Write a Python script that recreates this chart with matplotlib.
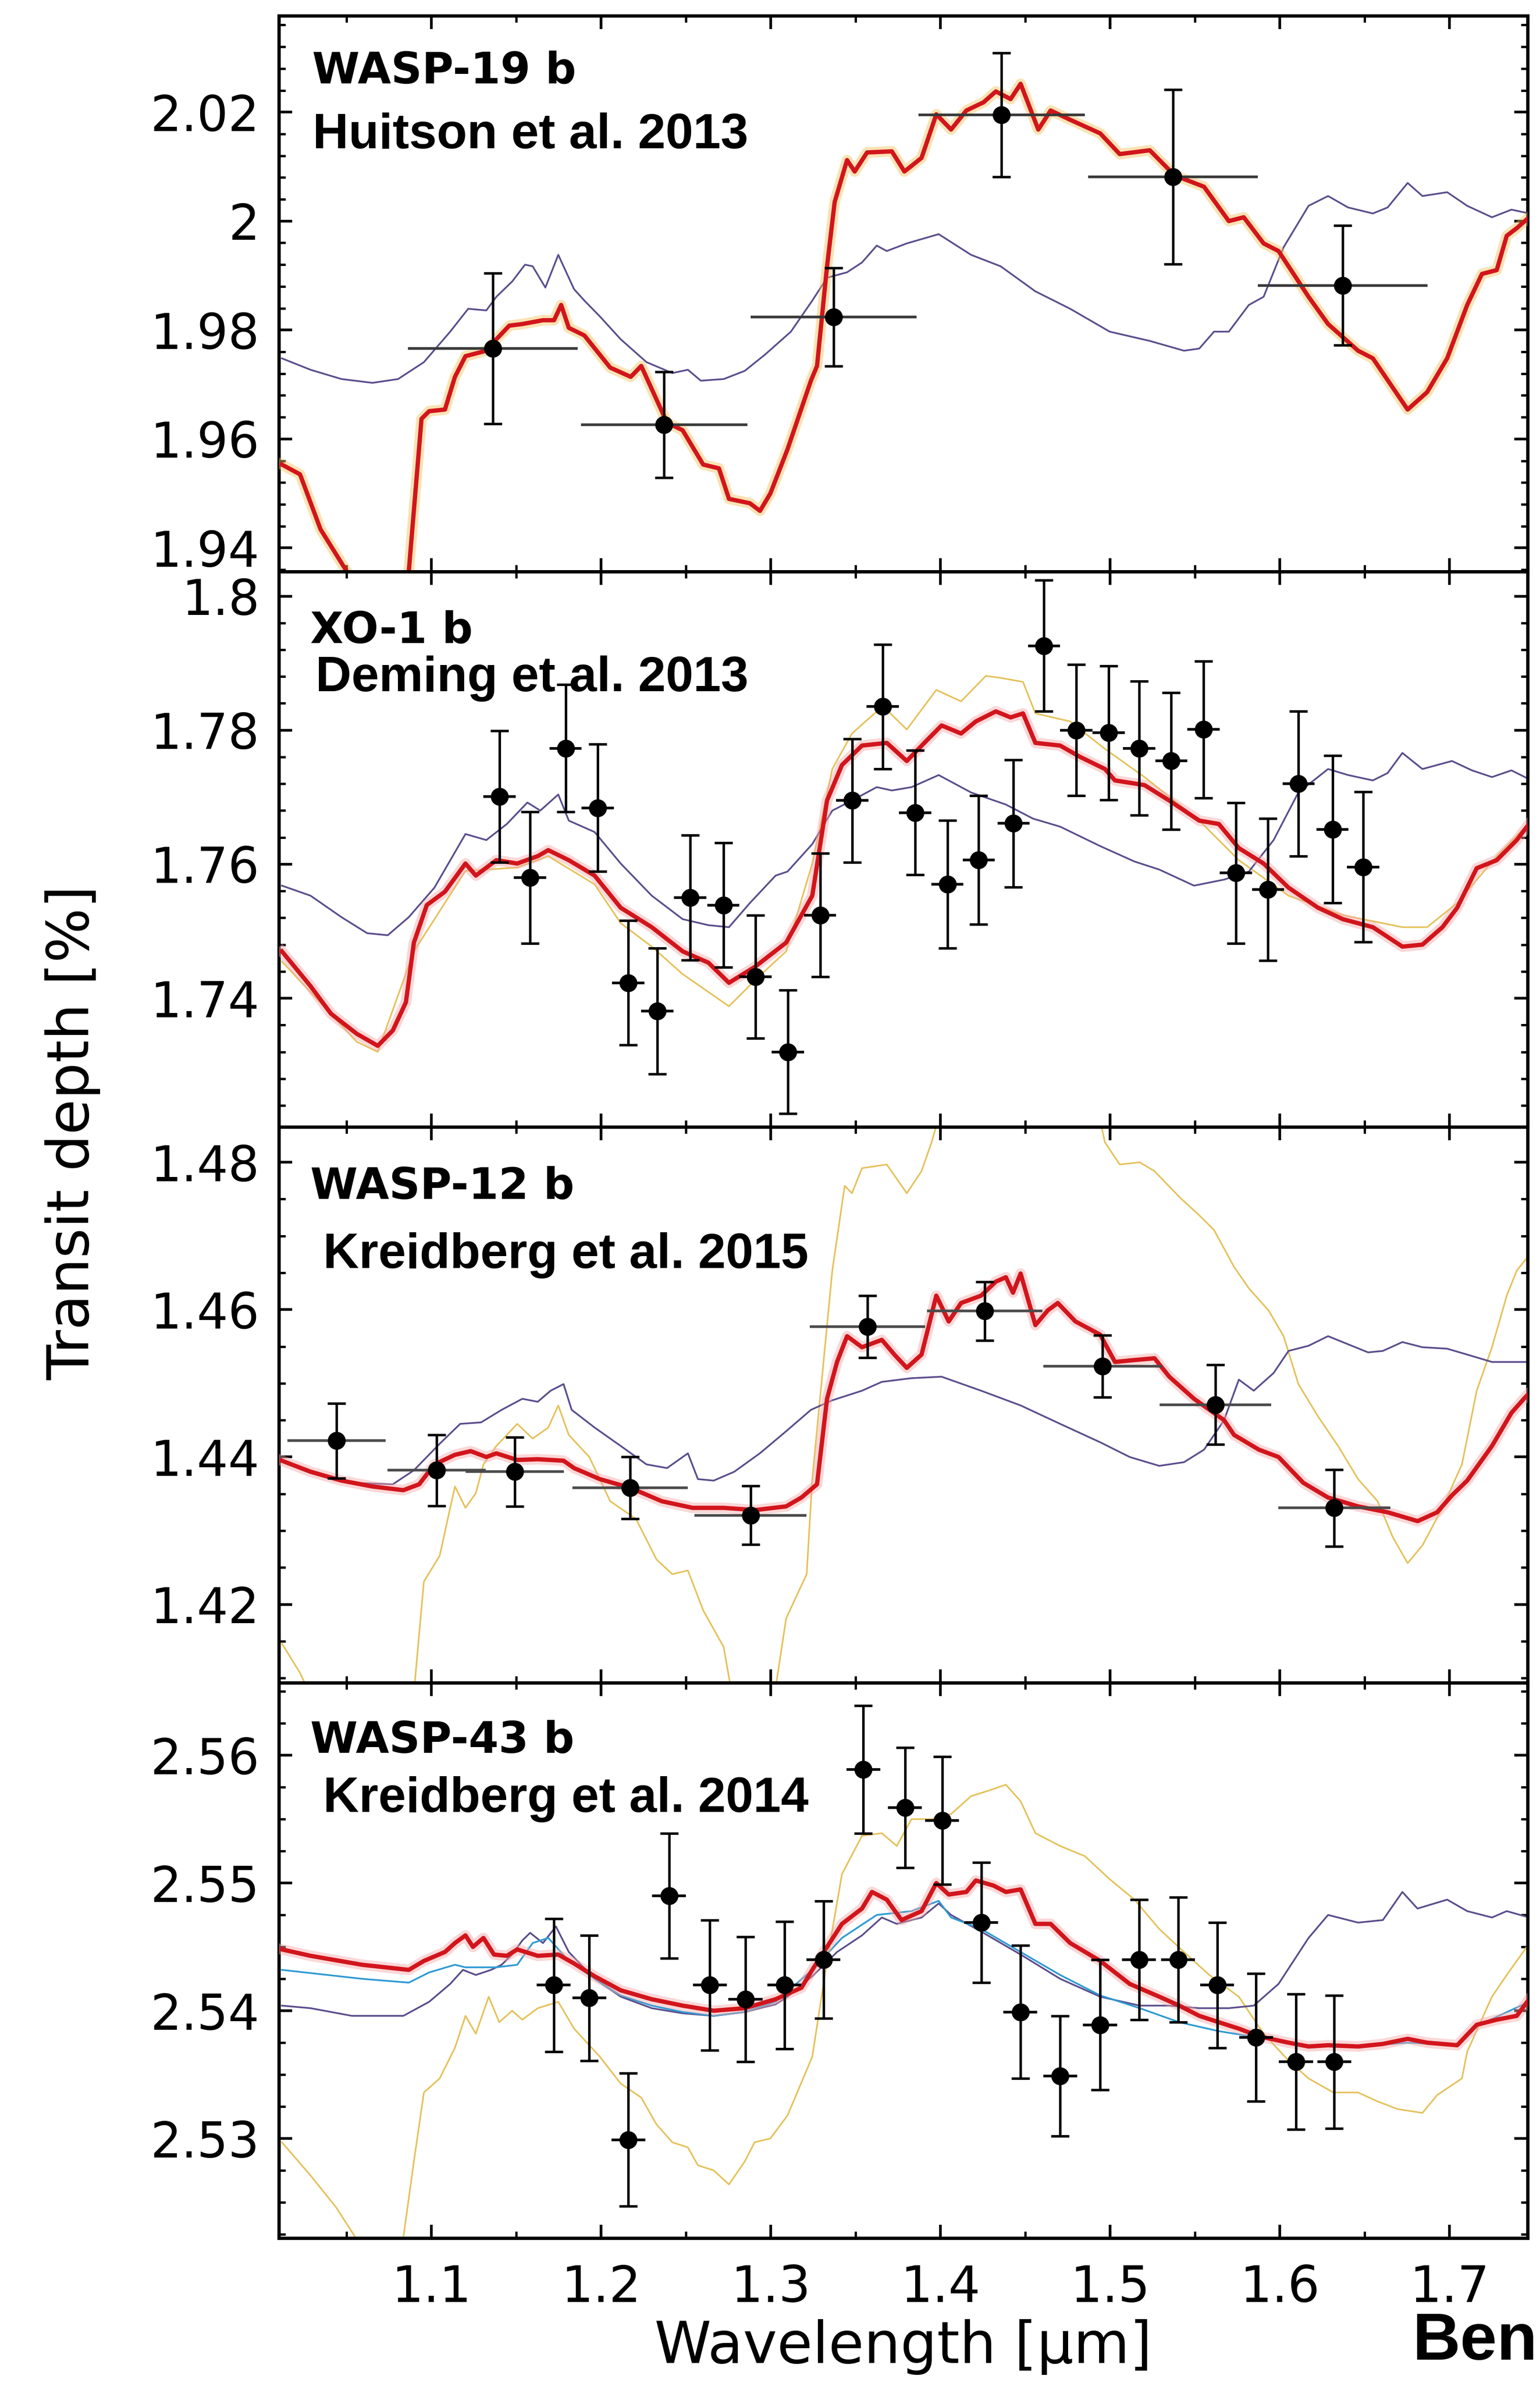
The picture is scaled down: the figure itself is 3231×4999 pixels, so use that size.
import numpy as np
import matplotlib
matplotlib.use('Agg')
import matplotlib.pyplot as plt
from matplotlib.ticker import MultipleLocator, FuncFormatter

# ---------------- data ----------------
x_lim = (1.010, 1.746)

# WASP-19 b (Huitson et al. 2013)
w19_x = [1.136, 1.237, 1.337, 1.436, 1.537, 1.637]
w19_y = [1.9766, 1.9626, 1.9824, 2.0195, 2.0081, 1.9882]
w19_yerr = [0.0138, 0.0097, 0.0090, 0.0114, 0.0160, 0.0110]
w19_xerr = [0.050, 0.049, 0.049, 0.049, 0.050, 0.050]
w19_red_x = [1.0118, 1.0225, 1.0346, 1.0500, 1.0560, 1.0800, 1.0866, 1.0941, 1.0986, 1.1079,
             1.1138, 1.1200, 1.1323, 1.1382, 1.1458, 1.1535, 1.1657, 1.1722, 1.1764, 1.1809,
             1.1901, 1.2053, 1.2174, 1.2236, 1.2388, 1.2480, 1.2601, 1.2694, 1.2753, 1.2876,
             1.2936, 1.2997, 1.3098, 1.3236, 1.3272, 1.3331, 1.3376, 1.3449, 1.3494, 1.3567,
             1.3713, 1.3787, 1.3888, 1.3975, 1.4062, 1.4152, 1.4253, 1.4326, 1.4413, 1.4472,
             1.4576, 1.4649, 1.4764, 1.4941, 1.5056, 1.5233, 1.5379, 1.5553, 1.5699, 1.5787,
             1.5904, 1.5992, 1.6169, 1.6284, 1.6461, 1.6548, 1.6753, 1.6868, 1.6986, 1.7104,
             1.7191, 1.7278, 1.7337, 1.7396, 1.7469]
w19_red_y = [1.9553, 1.9535, 1.9434, 1.9357, 1.9300, 1.9280, 1.9357, 1.9637, 1.9651, 1.9654,
             1.9714, 1.9752, 1.9762, 1.9783, 1.9808, 1.9811, 1.9818, 1.9818, 1.9846, 1.9804,
             1.9790, 1.9731, 1.9714, 1.9734, 1.9630, 1.9616, 1.9553, 1.9546, 1.9490, 1.9482,
             1.9468, 1.9500, 1.9581, 1.9707, 1.9734, 1.9917, 2.0035, 2.0112, 2.0091, 2.0126,
             2.0128, 2.0091, 2.0116, 2.0196, 2.0168, 2.0203, 2.0218, 2.0238, 2.0224, 2.0252,
             2.0168, 2.0203, 2.0186, 2.0161, 2.0123, 2.0130, 2.0084, 2.0063, 2.0000, 2.0007,
             1.9959, 1.9945, 1.9861, 1.9811, 1.9762, 1.9748, 1.9654, 1.9686, 1.9748, 1.9846,
             1.9903, 1.9910, 1.9973, 1.9987, 2.0007]
w19_pur_x = [1.0118, 1.0287, 1.0469, 1.0652, 1.0803, 1.0955, 1.1110, 1.1216, 1.1323, 1.1382,
             1.1475, 1.1551, 1.1596, 1.1671, 1.1747, 1.1840, 1.1901, 1.1992, 1.2115, 1.2267,
             1.2419, 1.2511, 1.2587, 1.2722, 1.2846, 1.2966, 1.3118, 1.3244, 1.3331, 1.3449,
             1.3537, 1.3624, 1.3683, 1.3801, 1.3989, 1.4180, 1.4354, 1.4559, 1.4764, 1.4997,
             1.5233, 1.5435, 1.5525, 1.5612, 1.5699, 1.5817, 1.5904, 1.6022, 1.6169, 1.6284,
             1.6402, 1.6548, 1.6635, 1.6753, 1.6840, 1.6986, 1.7104, 1.7250, 1.7365, 1.7469]
w19_pur_y = [1.9748, 1.9727, 1.9710, 1.9703, 1.9710, 1.9741, 1.9797, 1.9839, 1.9836, 1.9861,
             1.9889, 1.9920, 1.9917, 1.9878, 1.9938, 1.9875, 1.9854, 1.9825, 1.9783, 1.9741,
             1.9721, 1.9727, 1.9707, 1.9710, 1.9725, 1.9755, 1.9797, 1.9854, 1.9896, 1.9906,
             1.9924, 1.9955, 1.9945, 1.9959, 1.9976, 1.9938, 1.9917, 1.9871, 1.9839, 1.9797,
             1.9780, 1.9762, 1.9766, 1.9797, 1.9797, 1.9846, 1.9861, 1.9952, 2.0028, 2.0046,
             2.0025, 2.0014, 2.0025, 2.0070, 2.0046, 2.0053, 2.0028, 2.0007, 2.0021, 2.0014]

# XO-1 b (Deming et al. 2013)
xo1_x = [1.140, 1.158, 1.179, 1.198, 1.216, 1.233, 1.2525, 1.272, 1.291, 1.310,
         1.329, 1.348, 1.366, 1.385, 1.404, 1.4225, 1.443, 1.461, 1.480, 1.499,
         1.517, 1.536, 1.555, 1.574, 1.593, 1.611, 1.631, 1.649]
xo1_y = [1.7701, 1.7580, 1.7773, 1.7684, 1.7423, 1.7381, 1.7550, 1.7539, 1.7432, 1.7320,
         1.7524, 1.7695, 1.7835, 1.7677, 1.7570, 1.7606, 1.7661, 1.7926, 1.7800, 1.7796,
         1.7773, 1.7754, 1.7801, 1.7587, 1.7562, 1.7720, 1.7652, 1.7596]
xo1_yerr = [0.0098, 0.0098, 0.0095, 0.0095, 0.0093, 0.0094, 0.0093, 0.0093, 0.0092, 0.0092,
            0.0092, 0.0092, 0.0093, 0.0093, 0.0095, 0.0096, 0.0095, 0.0098, 0.0098, 0.0100,
            0.0100, 0.0102, 0.0102, 0.0105, 0.0106, 0.0108, 0.0110, 0.0112]
xo1_xerr = 0.0095
xo1_red_x = [1.0118, 1.0287, 1.0407, 1.0559, 1.0683, 1.0772, 1.0849, 1.0896, 1.0972, 1.1079,
             1.1200, 1.1261, 1.1382, 1.1505, 1.1626, 1.1688, 1.1809, 1.1961, 1.2115, 1.2298,
             1.2480, 1.2632, 1.2753, 1.2907, 1.3090, 1.3244, 1.3331, 1.3419, 1.3537, 1.3683,
             1.3801, 1.3916, 1.4006, 1.4121, 1.4208, 1.4326, 1.4413, 1.4486, 1.4559, 1.4705,
             1.4823, 1.4969, 1.5028, 1.5202, 1.5348, 1.5525, 1.5640, 1.5758, 1.5904, 1.6051,
             1.6225, 1.6371, 1.6548, 1.6722, 1.6840, 1.6958, 1.7045, 1.7160, 1.7278, 1.7396,
             1.7483]
xo1_red_y = [1.7470, 1.7418, 1.7377, 1.7347, 1.7329, 1.7352, 1.7394, 1.7483, 1.7539, 1.7559,
             1.7601, 1.7583, 1.7606, 1.7601, 1.7612, 1.7621, 1.7606, 1.7583, 1.7535, 1.7506,
             1.7470, 1.7453, 1.7423, 1.7447, 1.7483, 1.7553, 1.7695, 1.7748, 1.7777, 1.7781,
             1.7754, 1.7784, 1.7807, 1.7795, 1.7813, 1.7828, 1.7819, 1.7825, 1.7781, 1.7777,
             1.7760, 1.7742, 1.7725, 1.7718, 1.7695, 1.7665, 1.7660, 1.7624, 1.7601, 1.7565,
             1.7535, 1.7518, 1.7506, 1.7477, 1.7480, 1.7506, 1.7535, 1.7594, 1.7606, 1.7636,
             1.7665]
xo1_pur_x = [1.0118, 1.0287, 1.0469, 1.0621, 1.0742, 1.0866, 1.1017, 1.1200, 1.1323, 1.1444,
             1.1565, 1.1641, 1.1747, 1.1809, 1.1961, 1.2115, 1.2298, 1.2480, 1.2632, 1.2753,
             1.2876, 1.3028, 1.3098, 1.3244, 1.3362, 1.3478, 1.3624, 1.3713, 1.3829, 1.3989,
             1.4180, 1.4385, 1.4545, 1.4705, 1.4941, 1.5143, 1.5289, 1.5494, 1.5671, 1.5817,
             1.5963, 1.6109, 1.6284, 1.6402, 1.6548, 1.6635, 1.6722, 1.6840, 1.7014, 1.7132,
             1.7250, 1.7365, 1.7483]
xo1_pur_y = [1.7568, 1.7553, 1.7521, 1.7497, 1.7494, 1.7521, 1.7565, 1.7645, 1.7636, 1.7660,
             1.7692, 1.7680, 1.7704, 1.7665, 1.7648, 1.7601, 1.7553, 1.7518, 1.7509, 1.7506,
             1.7542, 1.7583, 1.7589, 1.7630, 1.7680, 1.7695, 1.7715, 1.7710, 1.7715, 1.7733,
             1.7707, 1.7689, 1.7668, 1.7656, 1.7627, 1.7604, 1.7592, 1.7568, 1.7577, 1.7589,
             1.7636, 1.7707, 1.7742, 1.7733, 1.7725, 1.7736, 1.7766, 1.7742, 1.7754, 1.7740,
             1.7730, 1.7740, 1.7725]
xo1_yel_x = [1.0118, 1.0559, 1.0683, 1.0896, 1.1200, 1.1505, 1.1688, 1.1961, 1.2115, 1.2298,
             1.2480, 1.2753, 1.2907, 1.3090, 1.3244, 1.3362, 1.3478, 1.3660, 1.3801, 1.3975,
             1.4121, 1.4267, 1.4354, 1.4486, 1.4559, 1.4764, 1.4969, 1.5202, 1.5525, 1.5758,
             1.6051, 1.6371, 1.6722, 1.6868, 1.7045, 1.7278, 1.7483]
xo1_yel_y = [1.7455, 1.7335, 1.7320, 1.7470, 1.7590, 1.7595, 1.7612, 1.7570, 1.7512, 1.7477,
             1.7436, 1.7388, 1.7427, 1.7470, 1.7601, 1.7742, 1.7795, 1.7836, 1.7801, 1.7860,
             1.7843, 1.7881, 1.7878, 1.7872, 1.7825, 1.7813, 1.7772, 1.7730, 1.7665, 1.7606,
             1.7553, 1.7524, 1.7506, 1.7506, 1.7542, 1.7612, 1.7665]

# WASP-12 b (Kreidberg et al. 2015)
w12_x = [1.044, 1.103, 1.149, 1.217, 1.288, 1.357, 1.426, 1.4955, 1.562, 1.632]
w12_y = [1.4422, 1.4382, 1.4380, 1.4358, 1.4321, 1.4577, 1.4598, 1.4523, 1.4471, 1.4331]
w12_yerr = [0.0051, 0.0048, 0.0047, 0.0042, 0.0040, 0.0042, 0.0040, 0.0042, 0.0054, 0.0052]
w12_xerr = [0.029, 0.029, 0.029, 0.034, 0.033, 0.034, 0.034, 0.035, 0.033, 0.033]
w12_red_x = [1.0118, 1.0287, 1.0469, 1.0652, 1.0834, 1.0927, 1.1017, 1.1138, 1.1231, 1.1323,
             1.1382, 1.1505, 1.1626, 1.1778, 1.1840, 1.1992, 1.2174, 1.2357, 1.2539, 1.2722,
             1.2907, 1.3090, 1.3180, 1.3272, 1.3331, 1.3390, 1.3449, 1.3537, 1.3654, 1.3728,
             1.3801, 1.3888, 1.3975, 1.4048, 1.4121, 1.4239, 1.4326, 1.4385, 1.4427, 1.4472,
             1.4559, 1.4632, 1.4691, 1.4795, 1.4941, 1.5028, 1.5115, 1.5261, 1.5348, 1.5494,
             1.5671, 1.5730, 1.5876, 1.5992, 1.6138, 1.6284, 1.6461, 1.6635, 1.6812, 1.6927,
             1.7014, 1.7104, 1.7250, 1.7365, 1.7438, 1.7483]
w12_red_y = [1.4395, 1.4380, 1.4368, 1.4360, 1.4355, 1.4363, 1.4390, 1.4403, 1.4408, 1.4400,
             1.4405, 1.4396, 1.4397, 1.4395, 1.4385, 1.4370, 1.4358, 1.4340, 1.4331, 1.4331,
             1.4328, 1.4333, 1.4345, 1.4363, 1.4479, 1.4529, 1.4564, 1.4549, 1.4559, 1.4539,
             1.4521, 1.4539, 1.4619, 1.4584, 1.4609, 1.4619, 1.4638, 1.4644, 1.4623, 1.4649,
             1.4579, 1.4599, 1.4609, 1.4584, 1.4566, 1.4529, 1.4531, 1.4534, 1.4509, 1.4479,
             1.4450, 1.4430, 1.4410, 1.4400, 1.4365, 1.4345, 1.4333, 1.4325, 1.4313, 1.4325,
             1.4348, 1.4368, 1.4415, 1.4460, 1.4479, 1.4490]
w12_pur_x = [1.0118, 1.0287, 1.0531, 1.0772, 1.0896, 1.1048, 1.1169, 1.1292, 1.1413, 1.1535,
             1.1626, 1.1702, 1.1778, 1.1826, 1.1961, 1.2115, 1.2267, 1.2388, 1.2511, 1.2570,
             1.2663, 1.2784, 1.2935, 1.3090, 1.3236, 1.3362, 1.3537, 1.3654, 1.3829, 1.4006,
             1.4239, 1.4472, 1.4705, 1.4941, 1.5115, 1.5289, 1.5435, 1.5553, 1.5671, 1.5758,
             1.5846, 1.5963, 1.6051, 1.6169, 1.6284, 1.6520, 1.6607, 1.6722, 1.6840, 1.6986,
             1.7104, 1.7250, 1.7483]
w12_pur_y = [1.4395, 1.4382, 1.4365, 1.4363, 1.4382, 1.4418, 1.4445, 1.4447, 1.4464, 1.4479,
             1.4475, 1.4490, 1.4499, 1.4464, 1.4440, 1.4415, 1.4390, 1.4385, 1.4405, 1.4370,
             1.4368, 1.4380, 1.4405, 1.4435, 1.4464, 1.4477, 1.4490, 1.4502, 1.4507, 1.4509,
             1.4490, 1.4470, 1.4445, 1.4420, 1.4400, 1.4388, 1.4393, 1.4410, 1.4450, 1.4505,
             1.4490, 1.4514, 1.4544, 1.4551, 1.4564, 1.4542, 1.4544, 1.4556, 1.4549, 1.4547,
             1.4539, 1.4529, 1.4529]
w12_yel_x = [1.0118, 1.0225, 1.0400, 1.0850, 1.0896, 1.0955, 1.1048, 1.1110, 1.1138, 1.1200,
             1.1261, 1.1306, 1.1382, 1.1444, 1.1505, 1.1596, 1.1688, 1.1747, 1.1809, 1.1930,
             1.2053, 1.2205, 1.2326, 1.2419, 1.2511, 1.2601, 1.2722, 1.2784, 1.2997, 1.3090,
             1.3211, 1.3244, 1.3362, 1.3435, 1.3478, 1.3537, 1.3683, 1.3801, 1.3888, 1.3947,
             1.4100, 1.4500, 1.4850, 1.4969, 1.5056, 1.5174, 1.5261, 1.5407, 1.5525, 1.5612,
             1.5730, 1.5817, 1.5933, 1.6022, 1.6109, 1.6225, 1.6343, 1.6461, 1.6576, 1.6666,
             1.6753, 1.6840, 1.6958, 1.7073, 1.7160, 1.7250, 1.7337, 1.7396, 1.7483]
w12_yel_y = [1.4147, 1.4107, 1.4020, 1.4020, 1.4080, 1.4231, 1.4266, 1.4331, 1.4360, 1.4331,
             1.4351, 1.4390, 1.4415, 1.4430, 1.4445, 1.4425, 1.4440, 1.4470, 1.4430, 1.4400,
             1.4340, 1.4316, 1.4261, 1.4241, 1.4246, 1.4192, 1.4142, 1.4060, 1.4040, 1.4181,
             1.4241, 1.4370, 1.4653, 1.4768, 1.4758, 1.4792, 1.4797, 1.4758, 1.4788, 1.4827,
             1.4950, 1.5000, 1.4950, 1.4827, 1.4797, 1.4800, 1.4788, 1.4753, 1.4728, 1.4708,
             1.4658, 1.4629, 1.4599, 1.4564, 1.4499, 1.4455, 1.4415, 1.4370, 1.4340, 1.4291,
             1.4256, 1.4280, 1.4331, 1.4390, 1.4490, 1.4549, 1.4619, 1.4653, 1.4678]

# WASP-43 b (Kreidberg et al. 2014)
w43_x = [1.172, 1.193, 1.216, 1.240, 1.264, 1.285, 1.308, 1.331, 1.3545, 1.379,
         1.401, 1.424, 1.447, 1.4705, 1.494, 1.517, 1.540, 1.563, 1.586, 1.6095, 1.632]
w43_y = [2.5420, 2.5410, 2.5299, 2.5490, 2.5420, 2.5409, 2.5420, 2.5440, 2.5589, 2.5559,
         2.5549, 2.5469, 2.5399, 2.5349, 2.5389, 2.5440, 2.5440, 2.5420, 2.5379, 2.5360, 2.5360]
w43_yerr = [0.0052, 0.0049, 0.0052, 0.0049, 0.0051, 0.0049, 0.0050, 0.0046, 0.0050, 0.0047,
            0.0050, 0.0047, 0.0052, 0.0047, 0.0051, 0.0047, 0.0049, 0.0049, 0.0050, 0.0053, 0.0052]
w43_xerr = 0.010
w43_red_x = [1.0118, 1.0287, 1.0590, 1.0866, 1.0955, 1.1079, 1.1138, 1.1200, 1.1244, 1.1306,
             1.1368, 1.1444, 1.1505, 1.1626, 1.1747, 1.1840, 1.1961, 1.2115, 1.2298, 1.2480,
             1.2663, 1.2846, 1.3028, 1.3180, 1.3244, 1.3331, 1.3419, 1.3537, 1.3596, 1.3683,
             1.3770, 1.3888, 1.3975, 1.4048, 1.4152, 1.4208, 1.4312, 1.4385, 1.4472, 1.4559,
             1.4649, 1.4764, 1.4941, 1.5115, 1.5289, 1.5407, 1.5525, 1.5640, 1.5758, 1.5876,
             1.6051, 1.6169, 1.6284, 1.6461, 1.6607, 1.6753, 1.6868, 1.7045, 1.7160, 1.7278,
             1.7396, 1.7469]
w43_red_y = [2.5448, 2.5443, 2.5436, 2.5432, 2.5439, 2.5446, 2.5453, 2.5459, 2.5450, 2.5457,
             2.5444, 2.5443, 2.5448, 2.5443, 2.5444, 2.5437, 2.5427, 2.5416, 2.5409, 2.5404,
             2.5400, 2.5402, 2.5409, 2.5418, 2.5432, 2.5450, 2.5468, 2.5480, 2.5493, 2.5487,
             2.5471, 2.5478, 2.5500, 2.5491, 2.5493, 2.5502, 2.5498, 2.5493, 2.5495, 2.5468,
             2.5468, 2.5453, 2.5439, 2.5421, 2.5411, 2.5404, 2.5396, 2.5391, 2.5386, 2.5380,
             2.5375, 2.5372, 2.5373, 2.5372, 2.5374, 2.5378, 2.5375, 2.5373, 2.5389, 2.5393,
             2.5396, 2.5409]
w43_blu_x = [1.0118, 1.0590, 1.0866, 1.0986, 1.1138, 1.1200, 1.1382, 1.1505, 1.1596, 1.1688,
             1.1809, 1.1961, 1.2115, 1.2298, 1.2480, 1.2663, 1.2846, 1.3028, 1.3244, 1.3419,
             1.3624, 1.3829, 1.3989, 1.4062, 1.4239, 1.4472, 1.4705, 1.4941, 1.5174, 1.5407,
             1.5640, 1.5876, 1.6169, 1.6461, 1.6753, 1.7045, 1.7160, 1.7469]
w43_blu_y = [2.5432, 2.5425, 2.5422, 2.5430, 2.5436, 2.5434, 2.5434, 2.5436, 2.5453, 2.5457,
             2.5439, 2.5425, 2.5412, 2.5404, 2.5399, 2.5396, 2.5399, 2.5407, 2.5432, 2.5457,
             2.5475, 2.5478, 2.5486, 2.5473, 2.5464, 2.5446, 2.5428, 2.5412, 2.5402, 2.5391,
             2.5384, 2.5379, 2.5373, 2.5372, 2.5375, 2.5373, 2.5388, 2.5407]
w43_pur_x = [1.0118, 1.0287, 1.0531, 1.0834, 1.0986, 1.1110, 1.1185, 1.1261, 1.1351, 1.1413,
             1.1475, 1.1535, 1.1581, 1.1657, 1.1733, 1.1809, 1.1961, 1.2115, 1.2298, 1.2480,
             1.2663, 1.2846, 1.3028, 1.3098, 1.3244, 1.3390, 1.3537, 1.3654, 1.3742, 1.3888,
             1.3989, 1.4062, 1.4239, 1.4472, 1.4705, 1.4941, 1.5174, 1.5348, 1.5525, 1.5699,
             1.5846, 1.5992, 1.6169, 1.6284, 1.6461, 1.6607, 1.6722, 1.6811, 1.6986, 1.7104,
             1.7250, 1.7337, 1.7469]
w43_pur_y = [2.5404, 2.5402, 2.5396, 2.5396, 2.5407, 2.5421, 2.5432, 2.5428, 2.5432, 2.5436,
             2.5444, 2.5455, 2.5461, 2.5453, 2.5466, 2.5446, 2.5425, 2.5411, 2.5402, 2.5398,
             2.5396, 2.5399, 2.5405, 2.5411, 2.5427, 2.5446, 2.5459, 2.5473, 2.5468, 2.5473,
             2.5484, 2.5475, 2.5462, 2.5444, 2.5425, 2.5411, 2.5404, 2.5404, 2.5402, 2.5402,
             2.5404, 2.5421, 2.5457, 2.5475, 2.5469, 2.5471, 2.5493, 2.5480, 2.5487, 2.5478,
             2.5473, 2.5478, 2.5473]
w43_yel_x = [1.0118, 1.0287, 1.0438, 1.0559, 1.0650, 1.0800, 1.0896, 1.0955, 1.1048, 1.1138,
             1.1200, 1.1261, 1.1337, 1.1399, 1.1475, 1.1535, 1.1626, 1.1747, 1.1840, 1.1992,
             1.2115, 1.2236, 1.2326, 1.2419, 1.2511, 1.2570, 1.2663, 1.2753, 1.2846, 1.2904,
             1.2997, 1.3098, 1.3244, 1.3331, 1.3419, 1.3537, 1.3654, 1.3742, 1.3829, 1.3947,
             1.4062, 1.4180, 1.4298, 1.4385, 1.4472, 1.4559, 1.4705, 1.4851, 1.4997, 1.5143,
             1.5289, 1.5435, 1.5584, 1.5758, 1.5904, 1.6051, 1.6169, 1.6315, 1.6461, 1.6576,
             1.6694, 1.6840, 1.6927, 1.7073, 1.7104, 1.7250, 1.7337, 1.7455]
w43_yel_y = [2.5297, 2.5271, 2.5246, 2.5221, 2.5190, 2.5190, 2.5282, 2.5336, 2.5347, 2.5371,
             2.5396, 2.5382, 2.5411, 2.5391, 2.5400, 2.5393, 2.5402, 2.5407, 2.5386, 2.5364,
             2.5343, 2.5332, 2.5311, 2.5297, 2.5293, 2.5279, 2.5275, 2.5264, 2.5282, 2.5297,
             2.5300, 2.5318, 2.5364, 2.5439, 2.5507, 2.5537, 2.5539, 2.5529, 2.5550, 2.5550,
             2.5554, 2.5568, 2.5573, 2.5577, 2.5564, 2.5539, 2.5529, 2.5521, 2.5503, 2.5487,
             2.5464, 2.5446, 2.5428, 2.5411, 2.5382, 2.5361, 2.5347, 2.5336, 2.5336, 2.5329,
             2.5323, 2.5320, 2.5334, 2.5347, 2.5368, 2.5411, 2.5428, 2.5450]

# ---------------- figure ----------------
W, H = 3231, 4999
fig = plt.figure(figsize=(W / 100, H / 100), dpi=100, facecolor='white')

ax_left = 585 / W
ax_width = (3205 - 585) / W
panel_h = 1165.5
panel_tops = [33, 33 + panel_h, 33 + 2 * panel_h, 33 + 3 * panel_h]

RED = '#d2151c'
PURPLE = '#5b4d8c'
YELLOW = '#e5c15a'
BLUE = '#2f9ad3'


def fmt(v, pos):
    return f'{round(v, 4):g}'


panels = [
    dict(ylim=(1.9357, 2.0377), major=0.02, minor=0.004),
    dict(ylim=(1.7208, 1.8037), major=0.02, minor=0.004),
    dict(ylim=(1.4094, 1.4848), major=0.02, minor=0.005),
    dict(ylim=(2.5222, 2.5657), major=0.01, minor=0.0025),
]

axes = []
for i, p in enumerate(panels):
    bottom = 1 - (panel_tops[i] + panel_h) / H
    ax = fig.add_axes([ax_left, bottom, ax_width, panel_h / H])
    ax.set_xlim(*x_lim)
    ax.set_ylim(*p['ylim'])
    ax.xaxis.set_major_locator(MultipleLocator(0.1))
    ax.xaxis.set_minor_locator(MultipleLocator(0.05))
    ax.yaxis.set_major_locator(MultipleLocator(p['major']))
    ax.yaxis.set_minor_locator(MultipleLocator(p['minor']))
    ax.yaxis.set_major_formatter(FuncFormatter(fmt))
    ax.xaxis.set_major_formatter(FuncFormatter(fmt))
    ax.tick_params(which='both', direction='in', top=True, right=True)
    ax.tick_params(which='major', length=20, width=4)
    ax.tick_params(which='minor', length=10, width=3.5)
    ax.tick_params(axis='y', labelsize=74, pad=29)
    ax.tick_params(axis='x', labelsize=76, pad=39)
    if i < 3:
        ax.tick_params(axis='x', labelbottom=False)
    for s in ax.spines.values():
        s.set_linewidth(5)
    axes.append(ax)


def red_line(ax, x, y, halo):
    ax.plot(x, y, color=halo, lw=16, alpha=0.45, solid_joinstyle='round', zorder=3)
    ax.plot(x, y, color=RED, lw=6.5, solid_joinstyle='round', zorder=4)


def points(ax, x, y, yerr, xerr, xcol):
    ax.errorbar(x, y, xerr=xerr, fmt='none', ecolor=xcol, elinewidth=4, capsize=0, zorder=5)
    ax.errorbar(x, y, yerr=yerr, fmt='o', color='black', ms=26, elinewidth=3.8,
                capsize=14, capthick=3.8, zorder=6)


# WASP-19 b
ax = axes[0]
ax.plot(w19_pur_x, w19_pur_y, color=PURPLE, lw=2.6, zorder=2)
red_line(ax, w19_red_x, w19_red_y, '#f3c25a')
points(ax, w19_x, w19_y, w19_yerr, w19_xerr, '#383838')

# XO-1 b
ax = axes[1]
ax.plot(xo1_yel_x, xo1_yel_y, color=YELLOW, lw=2.4, zorder=2)
ax.plot(xo1_pur_x, xo1_pur_y, color=PURPLE, lw=2.6, zorder=2)
red_line(ax, xo1_red_x, xo1_red_y, '#f4a8a8')
points(ax, xo1_x, xo1_y, xo1_yerr, xo1_xerr, 'black')

# WASP-12 b
ax = axes[2]
ax.plot(w12_yel_x, w12_yel_y, color=YELLOW, lw=2.4, zorder=2)
ax.plot(w12_pur_x, w12_pur_y, color=PURPLE, lw=2.6, zorder=2)
red_line(ax, w12_red_x, w12_red_y, '#f4a8a8')
points(ax, w12_x, w12_y, w12_yerr, w12_xerr, '#4a4a4a')

# WASP-43 b
ax = axes[3]
ax.plot(w43_yel_x, w43_yel_y, color=YELLOW, lw=2.4, zorder=2)
ax.plot(w43_pur_x, w43_pur_y, color=PURPLE, lw=2.6, zorder=2)
ax.plot(w43_blu_x, w43_blu_y, color=BLUE, lw=2.6, zorder=2)
red_line(ax, w43_red_x, w43_red_y, '#f4a8a8')
points(ax, w43_x, w43_y, w43_yerr, w43_xerr, 'black')

# ---------------- text ----------------
planet_names = ['WASP-19 b', 'XO-1 b', 'WASP-12 b', 'WASP-43 b']
planet_pos = [(655, 175), (651, 1349), (651, 2515), (651, 3677)]
refs = ['Huitson et al. 2013', 'Deming et al. 2013', 'Kreidberg et al. 2015', 'Kreidberg et al. 2014']
ref_pos = [(656, 311), (662, 1450), (678, 2660), (678, 3801)]

for name, (px, py) in zip(planet_names, planet_pos):
    fig.text(px / W, 1 - py / H, name, fontsize=65, fontweight='bold',
             family='DejaVu Sans', va='baseline', ha='left', zorder=10)
for name, (px, py) in zip(refs, ref_pos):
    fig.text(px / W, 1 - py / H, name, fontsize=75, fontweight='bold',
             family='Liberation Sans', va='baseline', ha='left', zorder=10)

fig.text(153 / W, 1 - 2376 / H, 'Transit depth [%]', rotation=90, fontsize=87,
         family='DejaVu Sans', ha='center', va='center')
fig.text(1895 / W, 1 - 4923 / H, 'Wavelength [μm]', fontsize=87,
         family='DejaVu Sans', ha='center', va='center')
# credit text in the corner, only its first letters are visible in the reference
fig.text(0.9985, 0.004, 'Ben', fontsize=100, fontweight='bold',
         family='Liberation Sans', ha='right', va='bottom')

fig.savefig('out.png', dpi=100, facecolor='white')
